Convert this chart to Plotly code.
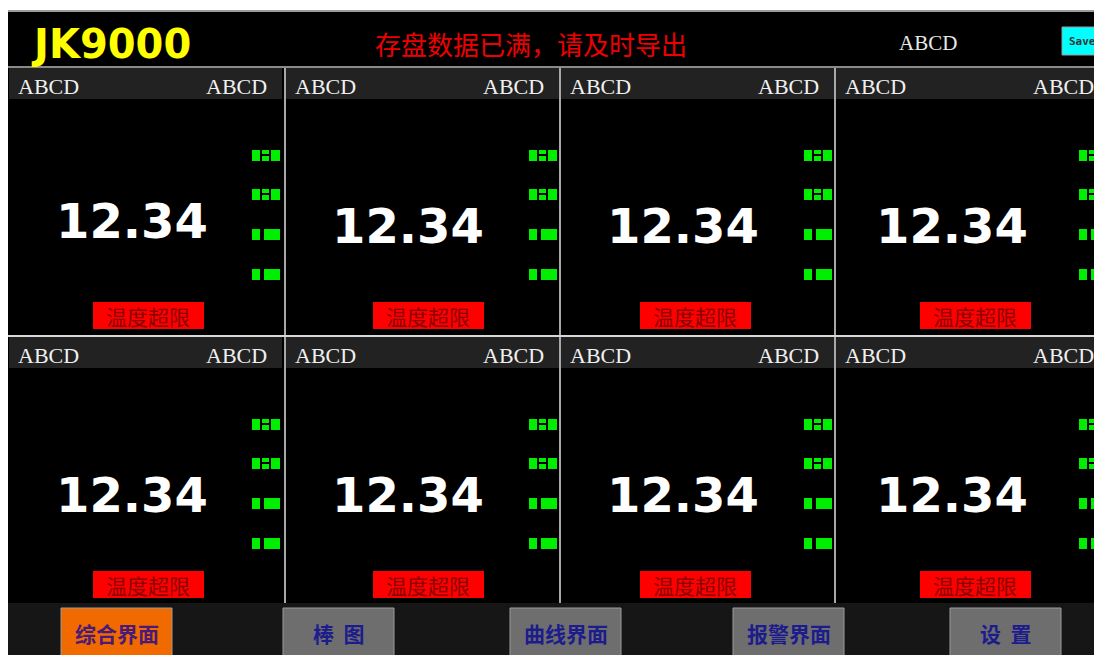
import plotly.graph_objects as go

# ---- data ----
title_text = "JK9000"
status_msg = "存盘数据已满，请及时导出"
top_right_label = "ABCD"
save_label = "Save"
panel_left_titles = ["ABCD"] * 8
panel_right_titles = ["ABCD"] * 8
panel_values = ["12.34"] * 8
alarm_texts = ["温度超限"] * 8
indicator_patterns = ["A", "A", "B", "B"]
button_labels = ["综合界面", "棒  图", "曲线界面", "报警界面", "设  置"]
button_active = [True, False, False, False, False]

# ---- layout constants ----
W, H = 1102, 655
PAD = 8  # page body margin offset
col_x0 = [8, 285, 560, 835]
col_w = 275
num_cx = [132, 408, 683, 952]
alarm_x0 = [93, 373, 640, 920]
row_y0 = [68, 337]
bottom_y0 = 603
button_x0 = [61, 283, 510, 733, 950]
button_w = 111

shapes = []
ann = []

def rect(x0, y0, x1, y1, fill, line=None, lw=0):
    shapes.append(dict(type="rect", xref="x", yref="y", x0=x0, y0=y0, x1=x1, y1=y1,
                       fillcolor=fill, line=dict(color=line or fill, width=lw), layer="below"))

def text(x, y, s, size, color, family, xanchor="center", bold=False):
    if bold:
        s = "<b>" + s + "</b>"
    ann.append(dict(x=x, y=y, xref="x", yref="y", text=s, showarrow=False,
                    font=dict(size=size, color=color, family=family),
                    xanchor=xanchor, yanchor="middle"))

# outer frame
rect(5, 10, W + 5, H + 5, "#9a9a9a")
rect(8, 12, W + 5, H + 5, "#000000")

# header
text(29, 44, title_text, 40, "#ffff00", "DejaVu Sans", xanchor="left", bold=True)
text(531, 43, status_msg, 26, "#ee0000", "Noto Sans CJK SC")
text(928, 43, top_right_label, 21, "#e8e8e8", "Liberation Serif")
rect(1062, 27, 1110, 55, "#00ffff", line="#9a9a9a", lw=1)
text(1082, 41, save_label, 11, "#333333", "DejaVu Sans Mono", bold=True)

# gray line under header
rect(8, 66, W + 5, 68, "#8a8a8a")

# panels
idx = 0
for r, ry in enumerate(row_y0):
    for c, cx in enumerate(col_x0):
        rect(cx + 1, ry, cx + col_w - 1, ry + 31, "#222222")
        text(cx + 8, ry + 18, panel_left_titles[idx], 22, "#f0f0f0", "Liberation Serif", xanchor="left")
        text(cx + 261, ry + 18, panel_right_titles[idx], 22, "#f0f0f0", "Liberation Serif", xanchor="right")
        vy = ry + (153 if (r == 0 and c == 0) else 158)
        text(num_cx[c], vy, panel_values[idx], 48, "#ffffff", "DejaVu Sans", bold=True)
        offs = [87, 126, 166, 206]
        for k, pat in enumerate(indicator_patterns):
            iy = ry + offs[k]
            ix = cx + 244
            rect(ix, iy - 5, ix + 8, iy + 6, "#00ee00")
            if pat == "A":
                rect(ix + 10, iy - 5, ix + 17, iy - 1, "#00ee00")
                rect(ix + 10, iy + 1, ix + 17, iy + 6, "#00ee00")
                rect(ix + 19, iy - 5, ix + 28, iy + 6, "#00ee00")
            else:
                rect(ix + 12, iy - 5, ix + 28, iy + 6, "#00ee00")
        ay = ry + 234
        ax = alarm_x0[c]
        rect(ax, ay, ax + 111, ay + 27, "#ff0000")
        text(ax + 55, ay + 14, alarm_texts[idx], 21, "#8a0000", "Noto Sans CJK SC")
        idx += 1

# separators
for sx in col_x0[1:]:
    rect(sx - 1, 68, sx + 1, bottom_y0, "#a8a8a8")
rect(8, row_y0[1] - 2, W + 5, row_y0[1], "#d8d8d8")

# bottom bar
rect(8, bottom_y0, W + 5, H + 5, "#161616")
for i, lab in enumerate(button_labels):
    bx = button_x0[i]
    fill = "#f06a00" if button_active[i] else "#6e6e6e"
    rect(bx, 608, bx + button_w, H + 5, fill, line="#9a9a9a", lw=1)
    col = "#4a1a78" if button_active[i] else "#1c1c8c"
    text(bx + button_w / 2, 633, lab, 21, col, "Noto Sans CJK SC", bold=True)

fig = go.Figure()
fig.add_trace(go.Scatter(x=[PAD, W], y=[PAD, H], mode="markers", marker=dict(opacity=0),
                         hoverinfo="skip", showlegend=False))
fig.update_layout(
    width=W - PAD, height=H - PAD, margin=dict(l=0, r=0, t=0, b=0),
    paper_bgcolor="#ffffff", plot_bgcolor="#ffffff",
    xaxis=dict(range=[PAD, W], visible=False, fixedrange=True),
    yaxis=dict(range=[H, PAD], visible=False, fixedrange=True),
    shapes=shapes, annotations=ann, showlegend=False,
)
fig.write_html("out.html")
